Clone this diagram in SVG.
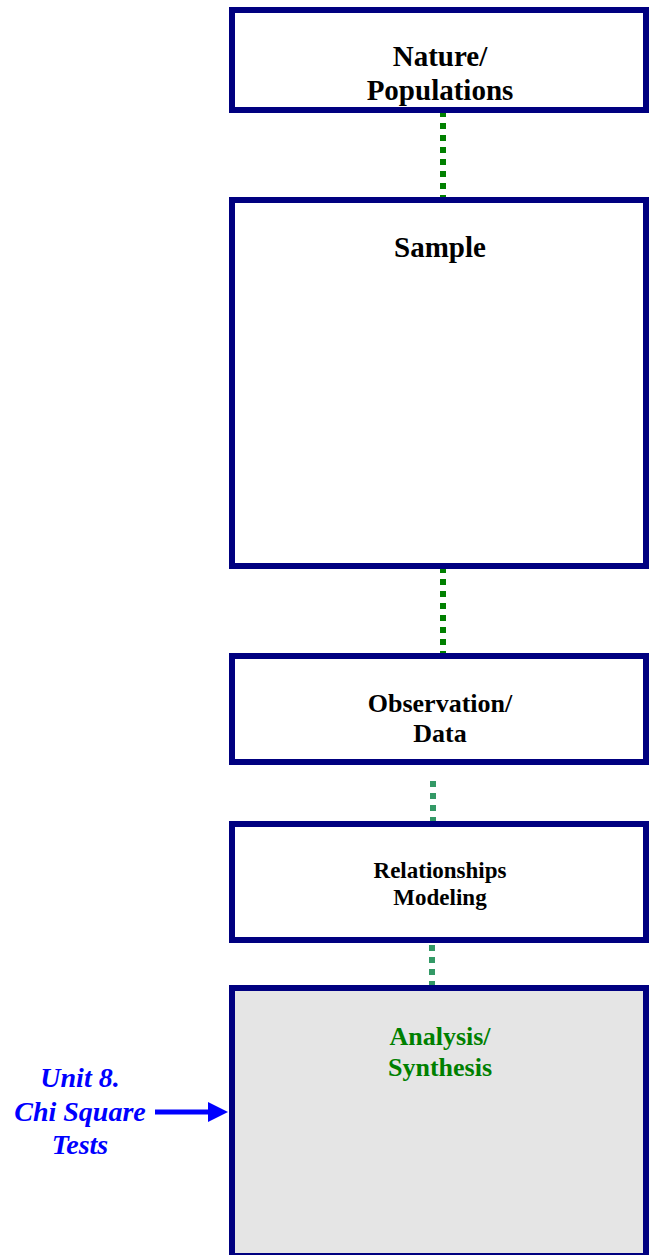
<svg xmlns="http://www.w3.org/2000/svg" width="649" height="1255" viewBox="0 0 649 1255">
<defs>
<style>
.box{fill:#ffffff;stroke:#000080;stroke-width:6}
.grey{fill:#e5e5e5}
.t{font-family:"Liberation Serif","Times New Roman",serif;font-weight:bold;fill:#000000;text-anchor:middle}
.g{fill:#008000}
.lbl{font-family:"Liberation Serif","Times New Roman",serif;font-weight:bold;font-style:italic;fill:#0000ff;text-anchor:middle;font-size:28px}
.c1{stroke:#008000;stroke-width:6;stroke-dasharray:6 6;fill:none}
.c2{stroke:#339966;stroke-width:6;stroke-dasharray:6 6;fill:none}
</style>
<marker id="ah" markerWidth="4" markerHeight="4" refX="0" refY="2" orient="auto" markerUnits="strokeWidth">
<path d="M0,0 L4,2 L0,4 Z" fill="#0000ff"/>
</marker>
</defs>
<rect width="649" height="1255" fill="#ffffff"/>
<g id="connectors">
<line class="c1" x1="443" y1="111" x2="443" y2="199"/>
<line class="c1" x1="443" y1="567" x2="443" y2="655"/>
<line class="c2" x1="433" y1="781" x2="433" y2="823"/>
<line class="c2" x1="432" y1="945" x2="432" y2="987"/>
<line x1="155" y1="1112" x2="208" y2="1112" stroke="#0000ff" stroke-width="5" marker-end="url(#ah)"/>
</g>
<g id="nature">
<rect class="box" x="232" y="10" width="414" height="100"/>
<text class="t" font-size="29" x="440" y="66">Nature/</text>
<text class="t" font-size="29" x="440" y="100">Populations</text>
</g>
<g id="sample">
<rect class="box" x="232" y="200" width="414" height="366"/>
<text class="t" font-size="29" x="440" y="257">Sample</text>
</g>
<g id="observation">
<rect class="box" x="232" y="656" width="414" height="106"/>
<text class="t" font-size="26" x="440" y="712">Observation/</text>
<text class="t" font-size="26" x="440" y="742">Data</text>
</g>
<g id="relationships">
<rect class="box" x="232" y="824" width="414" height="116"/>
<text class="t" font-size="23" x="440" y="878">Relationships</text>
<text class="t" font-size="23" x="440" y="905">Modeling</text>
</g>
<g id="analysis">
<rect class="box grey" x="232" y="988" width="414" height="268" style="fill:#e5e5e5"/>
<text class="t g" font-size="26" x="440" y="1045" style="fill:#008000">Analysis/</text>
<text class="t g" font-size="26" x="440" y="1076" style="fill:#008000">Synthesis</text>
</g>
<g id="unit8">
<text class="lbl" x="80" y="1087">Unit 8.</text>
<text class="lbl" x="80" y="1121">Chi Square</text>
<text class="lbl" x="80" y="1154">Tests</text>
</g>
</svg>
